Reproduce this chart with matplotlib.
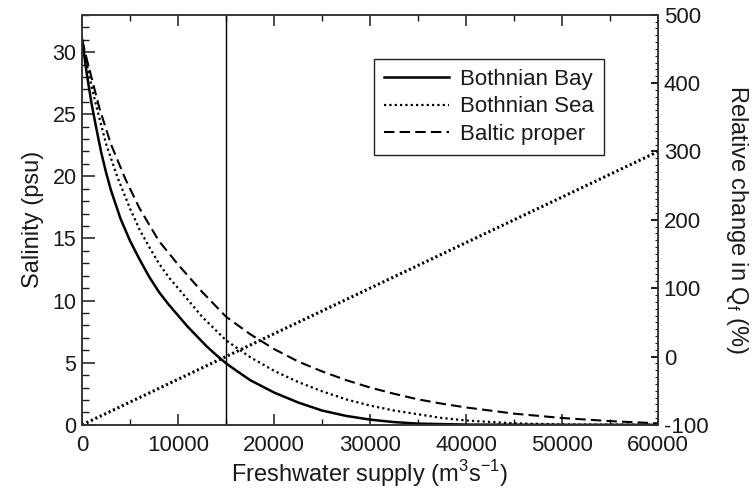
import matplotlib
matplotlib.use("Agg")
import matplotlib.pyplot as plt
from matplotlib.ticker import MultipleLocator

plt.rcParams['font.family'] = ['Liberation Sans', 'DejaVu Sans']
plt.rcParams['mathtext.fontset'] = 'custom'
plt.rcParams['mathtext.rm'] = 'Liberation Sans'
plt.rcParams['axes.unicode_minus'] = False

# salinity curves (freshwater supply in m3/s, salinity in psu)
bay_x = [0, 500, 1000, 1500, 2000, 2500, 3000, 4000, 5000, 6000, 7000, 8000, 9000,
         10000, 11000, 12000, 13000, 14000, 15000, 16000, 17500, 20000, 22500,
         25000, 27500, 30000, 32500, 35000, 40000, 50000, 60000]
bay_s = [31, 28.2, 25.8, 23.8, 21.9, 20.3, 18.9, 16.6, 14.8, 13.3, 11.9, 10.7, 9.7,
         8.8, 7.9, 7.1, 6.3, 5.6, 4.95, 4.4, 3.6, 2.6, 1.8,
         1.15, 0.72, 0.42, 0.22, 0.1, 0.02, 0, 0]

sea_x = [0, 500, 1000, 1500, 2500, 3700, 5000, 6000, 7000, 8000, 9000, 10000,
         12500, 15000, 17500, 20000, 22500, 25000, 27500, 30000, 32500, 35000,
         37500, 40000, 45000, 50000, 60000]
sea_s = [31, 29, 27.2, 25.6, 22.6, 19.9, 17.4, 15.7, 14.3, 13.0, 11.9, 11.0,
         8.7, 6.8, 5.45, 4.35, 3.45, 2.7, 2.05, 1.55, 1.15, 0.85,
         0.55, 0.35, 0.12, 0.03, 0]

bal_x = [0, 500, 1000, 1800, 3000, 4500, 6000, 8000, 10000, 12500, 15000, 17500,
         20000, 22500, 25000, 27500, 30000, 32500, 35000, 37500, 40000, 45000,
         50000, 55000, 60000]
bal_s = [31, 29.4, 27.9, 25.5, 22.6, 19.8, 17.4, 14.8, 12.9, 10.7, 8.7, 7.3,
         6.1, 5.1, 4.3, 3.6, 3.0, 2.5, 2.05, 1.7, 1.4, 0.9,
         0.55, 0.3, 0.12]

# relative change in Q_f (%), relative to present supply
q_x = [0, 60000]
q_rel = [-100, 300]
present_q = 15000

fig = plt.figure(figsize=(7.53, 4.94), dpi=100)
ax = fig.add_axes([0.109, 0.14, 0.765, 0.83])
ax2 = ax.twinx()

ax.plot(bay_x, bay_s, color='black', lw=1.8, label='Bothnian Bay')
ax.plot(sea_x, sea_s, color='black', lw=1.6, linestyle=(0, (1, 1.4)), label='Bothnian Sea')
ax.plot(bal_x, bal_s, color='black', lw=1.5, linestyle=(0, (5, 2.5)), label='Baltic proper')
ax.axvline(present_q, color='black', lw=1.0)

ax2.plot(q_x, q_rel, color='black', lw=2.2, linestyle=(0, (0.7, 0.9)))

ax.set_xlim(0, 60000)
ax.set_ylim(0, 33)
ax2.set_ylim(-100, 500)

ax.xaxis.set_major_locator(MultipleLocator(10000))
ax.xaxis.set_minor_locator(MultipleLocator(5000))
ax.yaxis.set_major_locator(MultipleLocator(5))
ax.yaxis.set_minor_locator(MultipleLocator(1))
ax2.yaxis.set_major_locator(MultipleLocator(100))
ax2.yaxis.set_minor_locator(MultipleLocator(10))

tc = '#1a1a1a'
ax.tick_params(axis='x', which='both', direction='in', top=True, labelsize=16, colors=tc, pad=7)
ax.tick_params(axis='x', which='major', length=8, width=1.1)
ax.tick_params(axis='x', which='minor', length=4, width=1.0)
ax.tick_params(axis='y', which='both', direction='in', right=False, labelsize=15.5, colors=tc, pad=4)
ax.tick_params(axis='y', which='major', length=9, width=1.1)
ax.tick_params(axis='y', which='minor', length=5, width=1.0)
ax2.tick_params(axis='y', which='both', direction='in', labelsize=16, colors=tc, pad=4)
ax2.tick_params(axis='y', which='major', length=5, width=1.4)
ax2.tick_params(axis='y', which='minor', length=2.5, width=0.8)

for a in (ax, ax2):
    for s in a.spines.values():
        s.set_linewidth(1.1)
        s.set_color('#333333')

ax.set_xlabel(r'Freshwater supply (m$^\mathregular{3}$s$^\mathregular{-1}$)', fontsize=17, color=tc, labelpad=2)
ax.set_ylabel('Salinity (psu)', fontsize=17, color=tc, labelpad=6)
ax2.set_ylabel(r'Relative change in Q$_\mathregular{f}$ (%)', fontsize=17, color=tc,
               rotation=270, labelpad=30)

leg = ax.legend(loc='upper left', bbox_to_anchor=(0.507, 0.893), fontsize=16,
                frameon=True, fancybox=False, edgecolor='#222222', framealpha=1,
                handlelength=2.9, handletextpad=0.5, labelspacing=0.3,
                borderpad=0.45, borderaxespad=0)
leg.get_frame().set_linewidth(1.0)
for t in leg.get_texts():
    t.set_color(tc)

fig.savefig('out.png', dpi=100)
